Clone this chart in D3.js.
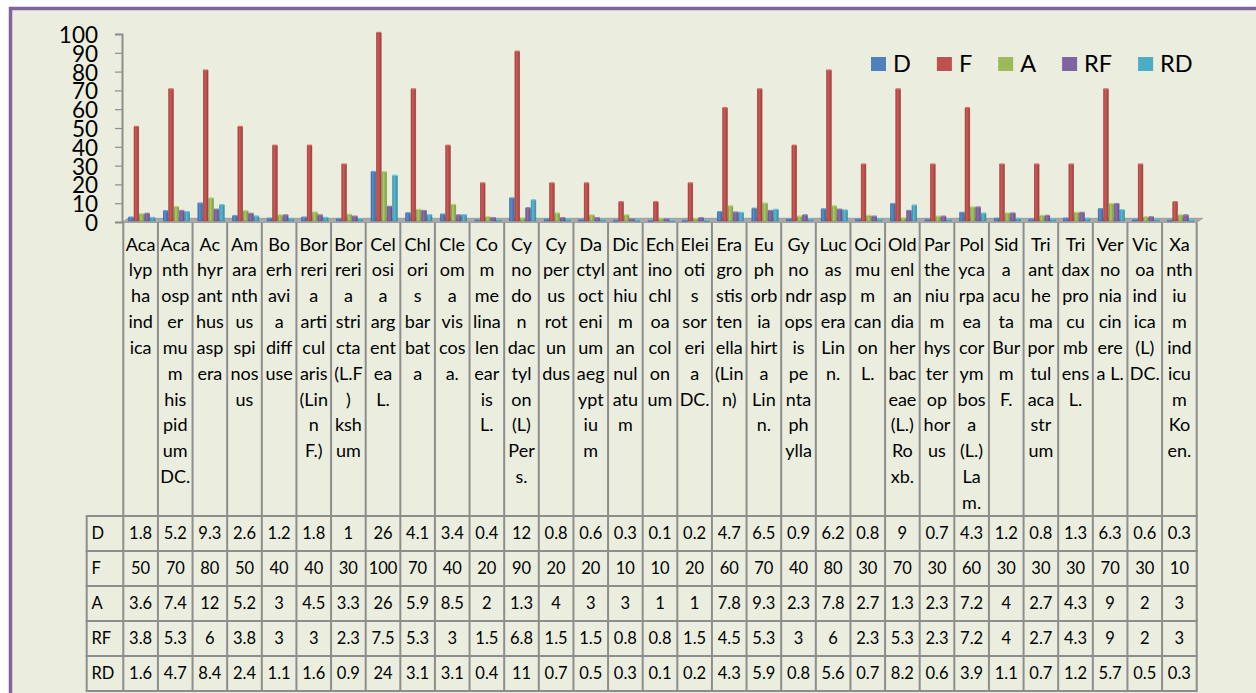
<!DOCTYPE html>
<html>
<head>
<meta charset="utf-8">
<script src="https://cdn.jsdelivr.net/npm/d3@7/dist/d3.min.js"></script>
<style>
  html, body { margin: 0; padding: 0; background: #ffffff; }
  svg { display: block; font-family: Lato, "Open Sans", sans-serif; }
</style>
</head>
<body>
<svg id="chart" width="1256" height="693"></svg>
<script>
// Species names, broken into the short pieces shown in each table column ("|" = new line)
const categories = [
  "Aca|lyp|ha|ind|ica",
  "Aca|nth|osp|er|mu|m|his|pid|um|DC.",
  "Ac|hyr|ant|hus|asp|era",
  "Am|ara|nth|us|spi|nos|us",
  "Bo|erh|avi|a|diff|use",
  "Bor|reri|a|arti|cul|aris|(Lin|n|F.)",
  "Bor|reri|a|stri|cta|(L.F|)|ksh|um",
  "Cel|osi|a|arg|ent|ea|L.",
  "Chl|ori|s|bar|bat|a",
  "Cle|om|a|vis|cos|a.",
  "Co|m|me|lina|len|ear|is|L.",
  "Cy|no|do|n|dac|tyl|on|(L)|Per|s.",
  "Cy|per|us|rot|un|dus",
  "Da|ctyl|oct|eni|um|aeg|ypt|iu|m",
  "Dic|ant|hiu|m|an|nul|atu|m",
  "Ech|ino|chl|oa|col|on|um",
  "Elei|oti|s|sor|eri|a|DC.",
  "Era|gro|stis|ten|ella|(Lin|n)",
  "Eu|ph|orb|ia|hirt|a|Lin|n.",
  "Gy|no|ndr|ops|is|pe|nta|ph|ylla",
  "Luc|as|asp|era|Lin|n.",
  "Oci|mu|m|can|on|L.",
  "Old|enl|an|dia|her|bac|eae|(L.)|Ro|xb.",
  "Par|the|niu|m|hys|ter|op|hor|us",
  "Pol|yca|rpa|ea|cor|ym|bos|a|(L.)|La|m.",
  "Sid|a|acu|ta|Bur|m|F.",
  "Tri|ant|he|ma|por|tul|aca|str|um",
  "Tri|dax|pro|cu|mb|ens|L.",
  "Ver|no|nia|cin|ere|a L.",
  "Vic|oa|ind|ica|(L)|DC.",
  "Xa|nth|iu|m|ind|icu|m|Ko|en."
];

const seriesNames  = ["D", "F", "A", "RF", "RD"];
const seriesColors = ["#4F81BD", "#C0504D", "#9BBB59", "#8064A2", "#4BACC6"];

const dValues  = [1.8,5.2,9.3,2.6,1.2,1.8,1,26,4.1,3.4,0.4,12,0.8,0.6,0.3,0.1,0.2,4.7,6.5,0.9,6.2,0.8,9,0.7,4.3,1.2,0.8,1.3,6.3,0.6,0.3];
const fValues  = [50,70,80,50,40,40,30,100,70,40,20,90,20,20,10,10,20,60,70,40,80,30,70,30,60,30,30,30,70,30,10];
const aValues  = [3.6,7.4,12,5.2,3,4.5,3.3,26,5.9,8.5,2,1.3,4,3,3,1,1,7.8,9.3,2.3,7.8,2.7,1.3,2.3,7.2,4,2.7,4.3,9,2,3];
const rfValues = [3.8,5.3,6,3.8,3,3,2.3,7.5,5.3,3,1.5,6.8,1.5,1.5,0.8,0.8,1.5,4.5,5.3,3,6,2.3,5.3,2.3,7.2,4,2.7,4.3,9,2,3];
const rdValues = [1.6,4.7,8.4,2.4,1.1,1.6,0.9,24,3.1,3.1,0.4,11,0.7,0.5,0.3,0.1,0.2,4.3,5.9,0.8,5.6,0.7,8.2,0.6,3.9,1.1,0.7,1.2,5.7,0.5,0.3];

const yTicks = [0,10,20,30,40,50,60,70,80,90,100];

const seriesValues = [dValues, fValues, aValues, rfValues, rdValues];

// ---- layout ----
const W = 1256, H = 693;
const bg = "#EBEEDF";
const gridColor = "#8D8D8D";
const plotLeft = 123.3, plotRight = 1196.7;
const yZero = 222, yTop = 34;
const tableTop = 516, rowH = 35, headerLeft = 86.7;

const svg = d3.select("#chart");

// chart area with purple frame (continues past the visible window)
svg.append("rect").attr("x", 0).attr("y", 0).attr("width", W).attr("height", H).attr("fill", "#ffffff");
svg.append("rect")
  .attr("x", 10.5).attr("y", 8.5).attr("width", W + 40).attr("height", H + 40)
  .attr("fill", bg).attr("stroke", "#8064A2").attr("stroke-width", 3.5);

const x = d3.scaleBand().domain(categories).range([plotLeft, plotRight]).padding(0);
const y = d3.scaleLinear().domain([0, 100]).range([yZero, yTop]);
const xs = d3.scaleBand().domain(seriesNames).range([5, 32]).padding(0);

// gradients giving the columns a rounded, shaded look
const defs = svg.append("defs");
seriesColors.forEach((c, i) => {
  const base = d3.color(c);
  const g = defs.append("linearGradient").attr("id", "grad" + i)
    .attr("x1", "0%").attr("x2", "100%").attr("y1", "0%").attr("y2", "0%");
  g.append("stop").attr("offset", "0%").attr("stop-color", base.darker(0.5));
  g.append("stop").attr("offset", "35%").attr("stop-color", base.brighter(0.25));
  g.append("stop").attr("offset", "100%").attr("stop-color", base.darker(0.6));
});

// floor slab
svg.append("polygon")
  .attr("points", [[plotLeft - 1.3, yZero + 0.5], [plotRight, yZero + 0.5], [plotRight + 6, yZero - 3.7], [plotLeft + 4.7, yZero - 3.7]].map(p => p.join(",")).join(" "))
  .attr("fill", "#A9A9A9").attr("stroke", "#959595").attr("stroke-width", 0.8);

// y axis
const yAxis = d3.axisLeft(y).tickValues(yTicks).tickSize(7).tickPadding(17).tickFormat(d3.format("d"));
const gy = svg.append("g").attr("transform", `translate(${plotLeft - 1.3},0)`).call(yAxis);
gy.select(".domain").attr("stroke", gridColor).attr("stroke-width", 2);
gy.selectAll(".tick line").attr("stroke", gridColor).attr("stroke-width", 1.2);
gy.selectAll(".tick text").attr("font-size", 22.5).attr("fill", "#000").attr("dy", "0.38em")
  .attr("font-family", "Lato, sans-serif");

// columns
const groups = svg.append("g").selectAll("g").data(categories).join("g")
  .attr("transform", d => `translate(${x(d)},0)`);

groups.each(function (cat, ci) {
  const g = d3.select(this);
  seriesNames.forEach((s, si) => {
    const v = seriesValues[si][ci];
    const bx = xs(s), bw = xs.bandwidth();
    const top = y(v) - 1, bottom = yZero - 1;
    const col = d3.color(seriesColors[si]);
    g.append("rect")
      .attr("x", bx + 0.3).attr("y", top).attr("width", bw - 0.6).attr("height", Math.max(0.8, bottom - top))
      .attr("fill", `url(#grad${si})`)
      .attr("stroke", col.darker(0.7)).attr("stroke-width", 0.5);
    // top cap
    g.append("rect")
      .attr("x", bx + 0.3).attr("y", top - 1.2).attr("width", bw - 0.6).attr("height", 1.4)
      .attr("fill", col.brighter(0.4)).attr("opacity", 0.9);
  });
});

// data table grid
const grid = svg.append("g").attr("stroke", gridColor).attr("stroke-width", 2).attr("fill", "none");
const colEdges = categories.map(c => x(c)).concat([plotRight]);
colEdges.forEach(cx => {
  grid.append("line").attr("x1", cx).attr("x2", cx).attr("y1", yZero + 0.5).attr("y2", tableTop + rowH * 5);
});
grid.append("line").attr("x1", headerLeft).attr("x2", headerLeft).attr("y1", tableTop).attr("y2", tableTop + rowH * 5);
for (let r = 0; r <= seriesNames.length; r++) {
  grid.append("line").attr("x1", headerLeft - 1).attr("x2", plotRight + 1)
    .attr("y1", tableTop + r * rowH).attr("y2", tableTop + r * rowH);
}

// category labels
const lineH = 25.85, firstBase = 250.5;
const labels = svg.append("g").attr("font-size", 18).attr("fill", "#000").attr("text-anchor", "middle");
categories.forEach(cat => {
  const t = labels.append("text").attr("x", x(cat) + x.bandwidth() / 2).attr("y", firstBase);
  cat.split("|").forEach((part, k) => {
    t.append("tspan").attr("x", x(cat) + x.bandwidth() / 2).attr("y", firstBase + k * lineH).text(part);
  });
});

// table rows: series name + values
const table = svg.append("g").attr("font-size", 16.5).attr("fill", "#000");
seriesNames.forEach((s, si) => {
  const cy = tableTop + si * rowH + rowH / 2;
  table.append("text").attr("x", 91.5).attr("y", cy).attr("dy", "0.36em").text(s);
  categories.forEach((cat, ci) => {
    table.append("text").attr("x", x(cat) + x.bandwidth() / 2).attr("y", cy).attr("dy", "0.36em")
      .attr("text-anchor", "middle").text(String(seriesValues[si][ci]));
  });
});

// legend
const legend = svg.append("g");
let lx = 871;
seriesNames.forEach((s, si) => {
  legend.append("rect").attr("x", lx).attr("y", 57).attr("width", 15).attr("height", 14).attr("fill", seriesColors[si]);
  const t = legend.append("text").attr("x", lx + 22).attr("y", 71.5).attr("font-size", 23.5).attr("fill", "#000").text(s);
  lx += 22 + t.node().getComputedTextLength() + 26;
});
</script>
</body>
</html>
